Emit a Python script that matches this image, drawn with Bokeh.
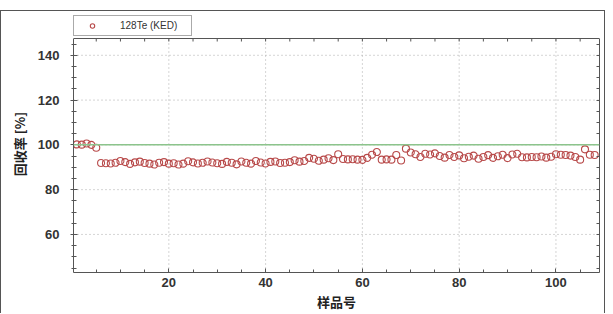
from bokeh.plotting import figure
from bokeh.models import (Range1d, FixedTicker, LinearAxis, Span, Legend, LegendItem,
                          ColumnDataSource, Spacer)
from bokeh.layouts import column
from bokeh.embed import file_html
from bokeh.resources import INLINE

# ---- data ----
sample_no = list(range(1, 109))
recovery = [
    100.2, 100.1, 100.6, 100.0, 98.7, 91.9, 91.8, 91.7, 92.0, 92.8,
    92.3, 91.5, 92.2, 92.5, 91.9, 91.6, 91.2, 92.0, 92.3, 91.6,
    91.8, 91.2, 91.6, 92.7, 92.2, 91.7, 92.0, 92.6, 92.1, 91.8,
    91.5, 92.4, 92.0, 91.3, 92.6, 92.0, 91.6, 92.8, 92.1, 91.7,
    92.4, 92.6, 91.9, 92.0, 92.3, 93.1, 92.5, 92.8, 94.2, 93.8,
    92.9, 93.4, 94.0, 93.2, 95.8, 93.7, 93.5, 93.6, 93.4, 93.3,
    94.2, 95.6, 96.8, 93.4, 93.5, 93.4, 95.5, 93.0, 98.3, 96.6,
    95.8, 94.6, 96.0, 95.7, 96.2, 95.0, 94.3, 95.5, 94.6, 95.3,
    94.0, 94.7, 95.2, 93.8, 94.6, 95.4, 94.2, 94.9, 95.6, 94.1,
    95.7, 96.0, 94.5, 94.4, 94.6, 94.5, 94.8, 94.3, 94.7, 95.8,
    95.6, 95.5, 95.2, 94.6, 93.4, 98.0, 95.6, 95.5,
]
reference_level = 100
series_name = "128Te (KED)"
x_major = [20, 40, 60, 80, 100]
x_minor = [5, 10, 15, 25, 30, 35, 45, 50, 55, 65, 70, 75, 85, 90, 95, 105]
y_major = [60, 80, 100, 120, 140]
y_minor = [45, 50, 55, 65, 70, 75, 85, 90, 95, 105, 110, 115, 125, 130, 135, 145]
x_title = "样品号"
y_title = "回收率 [%]"

# axis extents (the frame is extended upward to hold the legend strip)
X0, X1 = 0.3, 109
Y0, YA = 43, 147.5          # plotted y axis span
PX_PER_Y = 234 / (YA - Y0)  # axis height in px / units
YTOP = YA + 23 / PX_PER_Y   # extra room above the axis for the legend

src = ColumnDataSource(dict(x=sample_no, y=recovery))

p = figure(width=605, height=303, output_backend="svg", toolbar_location=None,
           x_range=Range1d(X0, X1), y_range=Range1d(Y0, YTOP),
           min_border_left=72, min_border_right=7, min_border_top=4, min_border_bottom=42)
p.styles = {"border-top": "1px solid #555", "border-left": "1px solid #555",
            "border-right": "1px solid #555"}
p.outline_line_color = None
p.background_fill_color = "white"
p.border_fill_color = "white"
p.xgrid.visible = False
p.ygrid.visible = False

tick_font = "Liberation Sans"
cjk_font = "Noto Sans CJK SC"

def style_axis(ax):
    ax.axis_line_color = "#555"
    ax.major_tick_line_color = "#555"
    ax.minor_tick_line_color = "#555"
    ax.major_tick_in = 4
    ax.major_tick_out = 0
    ax.minor_tick_in = 3
    ax.minor_tick_out = 0
    ax.major_label_text_font = tick_font
    ax.major_label_text_font_style = "bold"
    ax.major_label_text_color = "#333"
    ax.major_label_text_font_size = "13px"
    ax.axis_label_text_font = cjk_font
    ax.axis_label_text_font_style = "bold"
    ax.axis_label_text_font_size = "13px"
    ax.axis_label_text_color = "#222"

xb = p.xaxis[0]
xb.ticker = FixedTicker(ticks=x_major, minor_ticks=x_minor)
style_axis(xb)
xb.major_label_standoff = 5
xb.axis_label = x_title
xb.axis_label_standoff = 2

yl = p.yaxis[0]
yl.ticker = FixedTicker(ticks=y_major, minor_ticks=y_minor)
yl.bounds = (Y0, YA)
style_axis(yl)
yl.major_tick_out = 3
yl.minor_tick_out = 2
yl.major_label_standoff = 11
yl.axis_label = y_title
yl.axis_label_standoff = 6

# mirrored tick marks on the right (no labels)
yr = LinearAxis(ticker=FixedTicker(ticks=[], minor_ticks=sorted(y_major + y_minor)),
                bounds=(Y0, YA))
yr.axis_line_color = "#555"
yr.minor_tick_line_color = "#555"
yr.minor_tick_in = 3
yr.minor_tick_out = 0
yr.major_label_standoff = 0
yr.axis_label_standoff = 0
p.add_layout(yr, "right")

# dotted grid inside the axis box
p.segment(x0=x_major, x1=x_major, y0=[Y0] * len(x_major), y1=[YA] * len(x_major),
          line_color="#aaaaaa", line_dash="1 3", line_width=1)
p.segment(x0=[X0] * len(y_major), x1=[X1] * len(y_major), y0=y_major, y1=y_major,
          line_color="#aaaaaa", line_dash="1 3", line_width=1)

# top axis line with mirrored ticks
top_ticks = sorted(x_major + x_minor)
p.add_layout(Span(location=YA, dimension="width", line_color="#555", line_width=1))
p.segment(x0=top_ticks, x1=top_ticks, y0=[YA] * len(top_ticks),
          y1=[YA - 3 / PX_PER_Y] * len(top_ticks), line_color="#555", line_width=1)

p.add_layout(Span(location=reference_level, dimension="width",
                  line_color="#8cc48c", line_width=1.5))

r = p.scatter("x", "y", source=src, marker="circle", size=7,
              fill_color=None, line_color="#b84a4a", line_width=1.1)

legend = Legend(items=[LegendItem(label=series_name, renderers=[r])],
                location="top_left", padding=4, margin=0, spacing=0,
                glyph_width=28, glyph_height=11, label_height=11, label_width=67,
                label_standoff=14, label_text_font=tick_font,
                label_text_font_size="10px", label_text_color="#333",
                border_line_color="#555", border_line_width=1,
                background_fill_color="white", background_fill_alpha=1)
p.add_layout(legend)

layout = column(Spacer(height=10, width=605), p)

open("out.html", "w").write(file_html(layout, INLINE))
